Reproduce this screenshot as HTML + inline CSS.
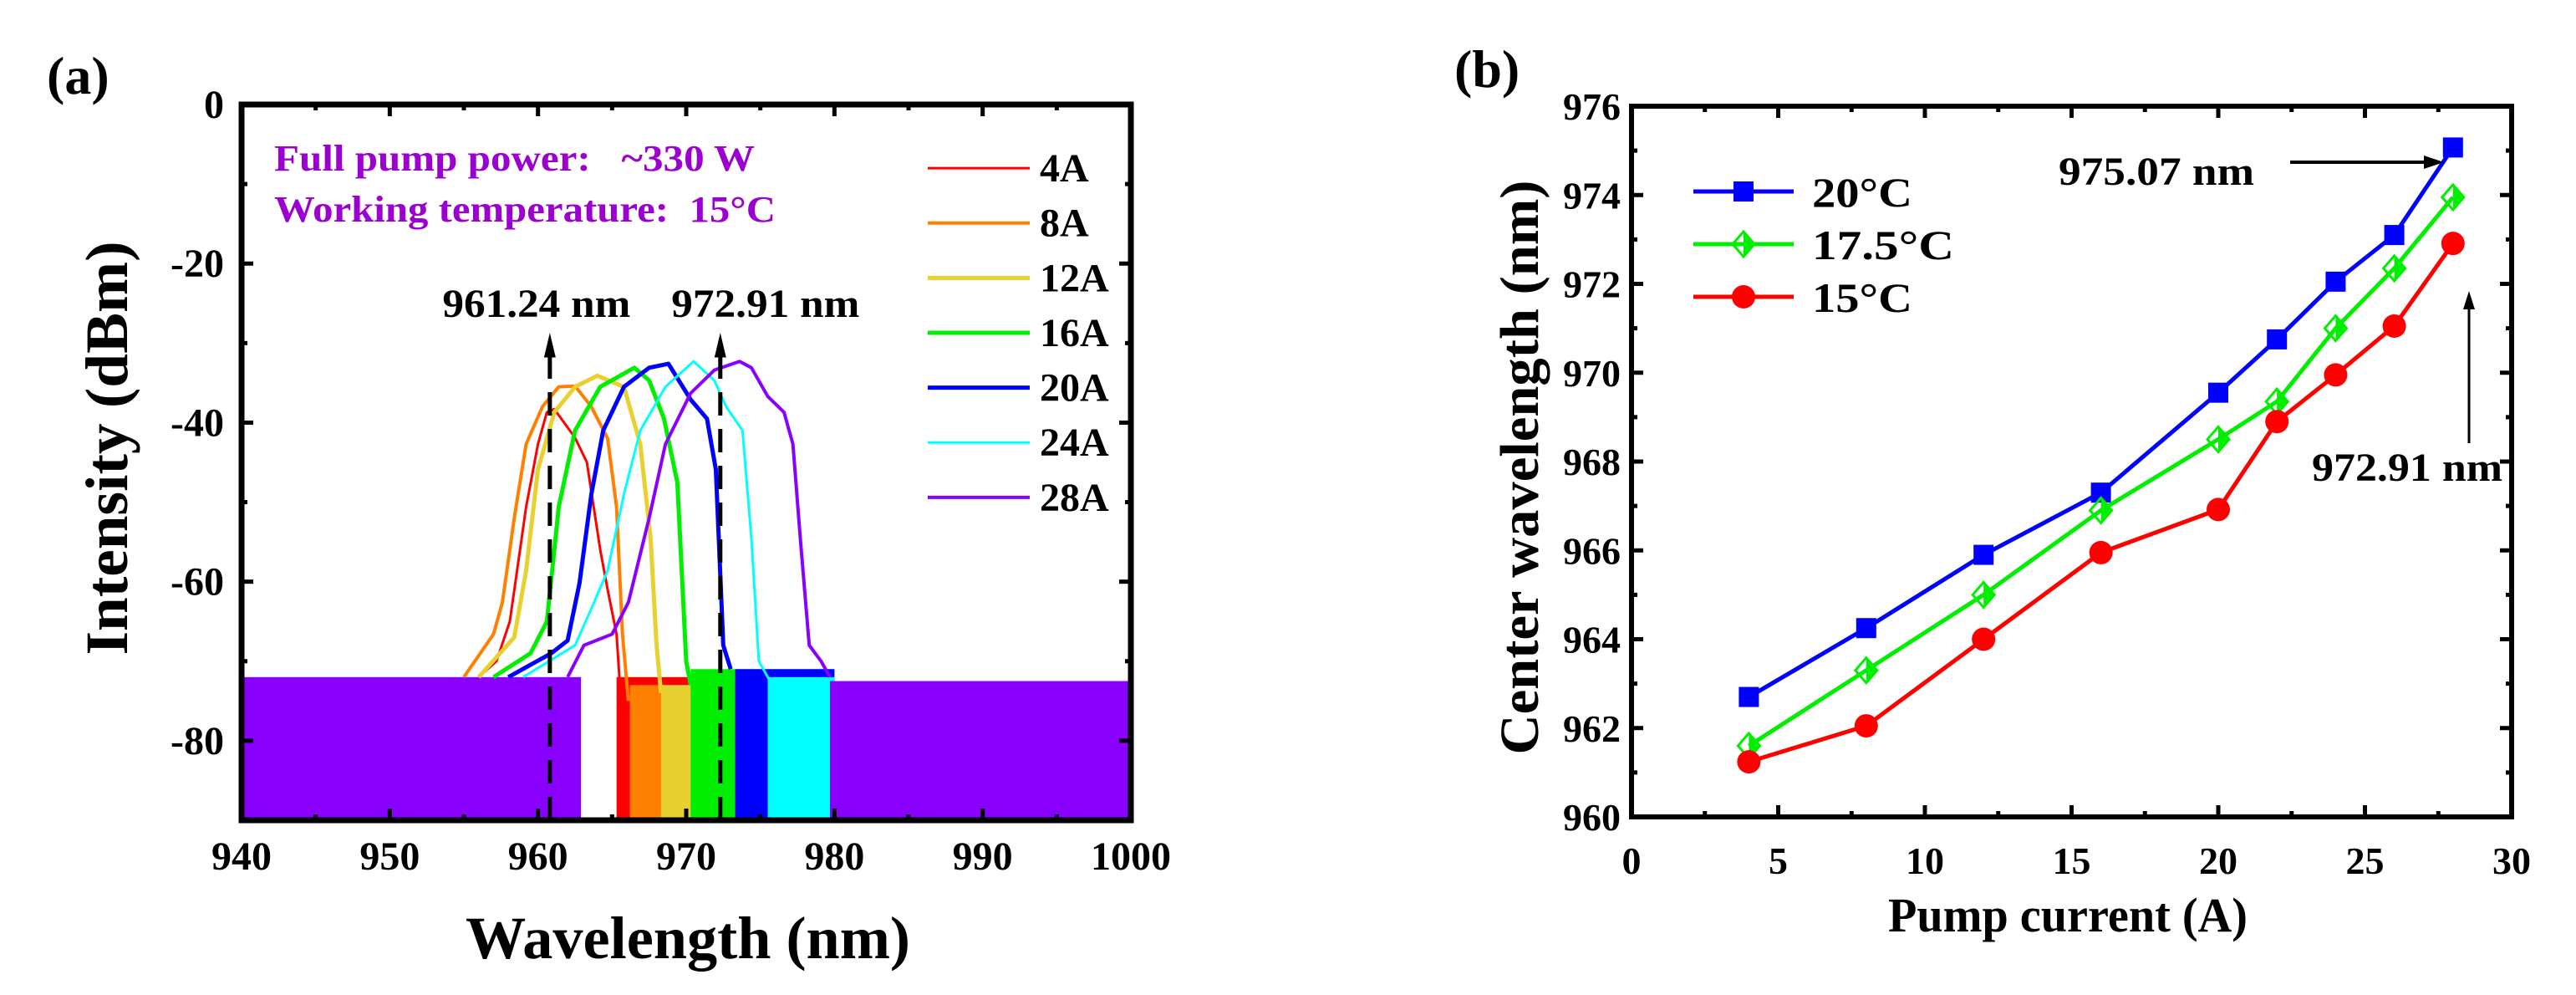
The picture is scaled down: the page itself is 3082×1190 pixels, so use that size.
<!DOCTYPE html>
<html><head><meta charset="utf-8"><style>
html,body{margin:0;padding:0;background:#fff;}
svg{display:block;}
text{font-family:"Liberation Serif","DejaVu Serif",serif !important;font-weight:bold;}
</style></head><body>
<svg id="fig" width="3082" height="1190" viewBox="0 0 3082 1190" xmlns="http://www.w3.org/2000/svg" font-family="Liberation Serif, DejaVu Serif, serif" font-weight="bold">
<g id="pa"></g>
<g id="pb"></g>
</svg>
<script>
// ---------- Panel (a) data ----------
const seriesNames = ["4A","8A","12A","16A","20A","24A","28A"];
const wl4A = [956,957.2,958.1,959.2,960,960.6,961.1,962.5,963.3,964.2,964.7,965.3,965.6];
const db4A = [-72,-70,-65,-50.6,-42.7,-38.7,-38.3,-41.9,-45,-56,-61,-66.6,-75];
const wl8A = [955,957,957.6,958.4,959.2,960.3,961.4,962.5,963.6,964.7,965.3,965.7,966.1];
const db8A = [-72,-66.6,-62.6,-52,-42.7,-38,-35.5,-35.4,-38,-42,-50.6,-66.6,-75];
const wl12A = [956,958.4,959.2,960,961.1,962.5,964,965.8,966.9,967.6,968,968.3];
const db12A = [-72,-67,-58.6,-45.9,-38.7,-35.5,-34.1,-35.5,-42.7,-54.6,-68,-74];
const wl16A = [957,959.5,960.6,961.4,962.5,964.2,966.5,967.5,968.5,969.4,970,970.3];
const db16A = [-72,-69,-65,-50.6,-41,-35.5,-33.1,-34.7,-39.5,-47.5,-70,-73];
const wl20A = [958,960.9,962,962.8,963.6,964.4,965.8,967.5,968.8,970.3,971.4,972,972.5,973];
const db20A = [-72,-69,-67.4,-60.2,-49,-41,-35.5,-33.1,-32.6,-37.1,-39.5,-45.9,-68,-71];
const wl24A = [959,962.5,963.6,964.7,965.8,966.9,968.6,970.5,971.9,972.7,973.8,974.4,974.9,975.8];
const db24A = [-72,-68,-63.4,-58.6,-49,-41,-35.5,-32.3,-34.7,-38,-41,-54.6,-70,-73];
const wl28A = [962,963.1,965,966.1,967.5,968.6,970.3,971.9,973.6,974.4,975.5,976.6,977.2,977.7,978.3,979.1,979.7];
const db28A = [-72,-68,-66.6,-62.6,-52,-42.7,-36.3,-33.4,-32.3,-33.1,-36.7,-38.7,-42.7,-54.6,-68,-70,-72];
// noise-floor bands that reach the bottom of the axis: [start, end, top dBm]
const band4A = [[965.3,980,-72]];
const band8A = [[966.2,980,-73]];
const band12A = [[968.3,980,-73]];
const band16A = [[970.3,980,-71]];
const band20A = [[973.3,980,-71]];
const band24A = [[975.5,980,-72]];
const band28A = [[940,962.9,-72],[979.7,1000,-72.5]];
const peakMarks = [960.8, 972.3];
const peakLabels = ["961.24 nm","972.91 nm"];
const xTicksA = [940,950,960,970,980,990,1000];
const yTicksA = [0,-20,-40,-60,-80];

// ---------- Panel (b) data ----------
const currents = [4,8,12,16,20,22,24,26,28];
const t20 = [962.7,964.25,965.9,967.3,969.55,970.75,972.05,973.1,975.07];
const t175 = [961.6,963.3,965.0,966.9,968.5,969.35,971.0,972.35,973.95];
const t15 = [961.24,962.05,964.0,965.95,966.92,968.9,969.95,971.05,972.91];
const xTicksB = [0,5,10,15,20,25,30];
const yTicksB = [960,962,964,966,968,970,972,974,976];

const NS="http://www.w3.org/2000/svg";
function mk(tag, attrs, parent){const e=document.createElementNS(NS,tag);for(const k in attrs)e.setAttribute(k,attrs[k]);parent.appendChild(e);return e;}

// ---------- draw panel a ----------
const pa=document.getElementById('pa');
const AL=289,AR=1353,AT=125,AB=981;
const xa=v=>AL+(v-940)/60*(AR-AL);
const ya=v=>AT+(0-v)/90*(AB-AT);
const colors=["#ff0000","#ff8000","#e8d030","#00ee00","#0000ff","#00ffff","#8a00ff"];
const widths=[3,4,5,5,5,3,4];
const wls=[wl4A,wl8A,wl12A,wl16A,wl20A,wl24A,wl28A];
const dbs=[db4A,db8A,db12A,db16A,db20A,db24A,db28A];
const bands=[band4A,band8A,band12A,band16A,band20A,band24A,band28A];
const clip=mk('clipPath',{id:'clipA'},pa);mk('rect',{x:AL,y:AT,width:AR-AL,height:AB-AT},clip);
const plotA=mk('g',{'clip-path':'url(#clipA)'},pa);
for(let s=0;s<7;s++){
  for(const b of bands[s]){
    const r=mk('rect',{x:xa(b[0]),y:ya(b[2]),width:xa(b[1])-xa(b[0]),height:AB-ya(b[2]),fill:colors[s]},plotA);
    
    
  }
}
for(let s=0;s<7;s++){
  const pts=wls[s].map((w,i)=>xa(w)+','+ya(dbs[s][i])).join(' ');
  const pl=mk('polyline',{points:pts,fill:'none',stroke:colors[s],'stroke-width':widths[s],'stroke-linejoin':'round'},plotA);
  
  
}
// peak arrows
const labelShift=[-16,54];
for(let i=0;i<peakMarks.length;i++){
  const x=xa(peakMarks[i]);
  const l=mk('line',{x1:x,y1:AB,x2:x,y2:ya(-31.5),stroke:'#000','stroke-width':5,'stroke-dasharray':'28,16'},pa);
  
  
  const h=mk('polygon',{points:`${x},${ya(-28.7)} ${x-7},${ya(-31.8)} ${x+7},${ya(-31.8)}`,fill:'#000'},pa);
  
  
  const t=mk('text',{x:x+labelShift[i],y:ya(-26.7),'font-size':48,'text-anchor':'middle',fill:'#000',textLength:225,lengthAdjust:'spacingAndGlyphs'},pa);
  t.textContent=peakLabels[i];
  
  
}
// axes box
mk('rect',{x:AL,y:AT,width:AR-AL,height:AB-AT,fill:'none',stroke:'#000','stroke-width':7},pa);
for(let v=940;v<=1000;v+=5){
  const maj=(v%10===0),L=maj?14:7,x=xa(v);
  mk('line',{x1:x,y1:AB,x2:x,y2:AB-L,stroke:'#000','stroke-width':5},pa);
  mk('line',{x1:x,y1:AT,x2:x,y2:AT+L,stroke:'#000','stroke-width':5},pa);
}
for(let v=0;v>=-90;v-=10){
  const maj=(v%20===0),L=maj?14:7,y=ya(v);
  mk('line',{x1:AL,y1:y,x2:AL+L,y2:y,stroke:'#000','stroke-width':5},pa);
  mk('line',{x1:AR,y1:y,x2:AR-L,y2:y,stroke:'#000','stroke-width':5},pa);
}
for(const v of xTicksA){const t=mk('text',{x:xa(v),y:1040,'font-size':48,'text-anchor':'middle'},pa);t.textContent=v;
  
  }
for(const v of yTicksA){const t=mk('text',{x:268,y:ya(v)+16,'font-size':48,'text-anchor':'end'},pa);t.textContent=v;
  
  }
// legend a
const legY=[ -8,-14.9,-21.8,-28.7,-35.6,-42.5,-49.4 ];
for(let s=0;s<7;s++){
  const y=ya(legY[s]);
  const l=mk('line',{x1:1110,y1:y,x2:1232,y2:y,stroke:colors[s],'stroke-width':widths[s]},pa);
  
  
  const t=mk('text',{x:1244,y:y+16,'font-size':48},pa);t.textContent=seriesNames[s];
  
  
}
</script>
<svg style="position:absolute;left:0;top:0" width="3082" height="1190" viewBox="0 0 3082 1190" xmlns="http://www.w3.org/2000/svg" font-family="Liberation Serif, DejaVu Serif, serif" font-weight="bold">
<text x="56" y="112" font-size="64">(a)</text>
<text x="328" y="204" font-size="44" fill="#9b00d0" textLength="575" lengthAdjust="spacingAndGlyphs" xml:space="preserve">Full pump power:   ~330 W</text>
<text x="328" y="265" font-size="44" fill="#9b00d0" textLength="600" lengthAdjust="spacingAndGlyphs" xml:space="preserve">Working temperature:  15°C</text>
<text x="823" y="1146" font-size="72" text-anchor="middle" textLength="532" lengthAdjust="spacingAndGlyphs">Wavelength (nm)</text>
<text transform="translate(152,536) rotate(-90)" font-size="72" text-anchor="middle" textLength="495" lengthAdjust="spacingAndGlyphs">Intensity (dBm)</text>
<text x="1740" y="104" font-size="64">(b)</text>
<text x="2474" y="1114" font-size="58" text-anchor="middle" textLength="430" lengthAdjust="spacingAndGlyphs">Pump current (A)</text>
<text transform="translate(1840,559) rotate(-90)" font-size="66" text-anchor="middle" textLength="687" lengthAdjust="spacingAndGlyphs">Center wavelength (nm)</text>
</svg>
<script>
// ---------- draw panel b ----------
const pb=document.getElementById('pb');
const BL=1952,BR=3005,BT=127,BB=977;
const xb=v=>BL+v/30*(BR-BL);
const yb=v=>BB-(v-960)/16*(BB-BT);
mk('rect',{x:BL,y:BT,width:BR-BL,height:BB-BT,fill:'none',stroke:'#000','stroke-width':6},pb);
for(let v=0;v<=30;v+=2.5){
  const maj=(v%5===0),L=maj?14:7,x=xb(v);
  mk('line',{x1:x,y1:BB,x2:x,y2:BB-L,stroke:'#000','stroke-width':5},pb);
  mk('line',{x1:x,y1:BT,x2:x,y2:BT+L,stroke:'#000','stroke-width':5},pb);
}
for(let v=960;v<=976;v+=1){
  const maj=(v%2===0),L=maj?14:7,y=yb(v);
  mk('line',{x1:BL,y1:y,x2:BL+L,y2:y,stroke:'#000','stroke-width':5},pb);
  mk('line',{x1:BR,y1:y,x2:BR-L,y2:y,stroke:'#000','stroke-width':5},pb);
}
for(const v of xTicksB){const t=mk('text',{x:xb(v),y:1045,'font-size':46,'text-anchor':'middle'},pb);t.textContent=v;
  
  }
for(const v of yTicksB){const t=mk('text',{x:1939,y:yb(v)+16,'font-size':46,'text-anchor':'end'},pb);t.textContent=v;
  
  }
function marker(kind,x,y,col,g){
  if(kind==='sq') return mk('rect',{x:x-12,y:y-12,width:24,height:24,fill:col},g);
  if(kind==='ci') return mk('circle',{cx:x,cy:y,r:14,fill:col},g);
  const gg=mk('g',{},g);
  mk('polygon',{points:`${x},${y-15} ${x+13},${y} ${x},${y+15}`,fill:col},gg);
  mk('polygon',{points:`${x},${y-15} ${x-13},${y} ${x},${y+15} ${x+13},${y}`,fill:'none',stroke:col,'stroke-width':3},gg);
  return gg;
}
const seriesB=[[t20,'#0000ff','sq','20°C','series-20c'],[t175,'#00ee00','di','17.5°C','series-17-5c'],[t15,'#ff0000','ci','15°C','series-15c']];
for(const [vals,col,kind,lab,nm] of seriesB){
  const pts=currents.map((c,i)=>xb(c)+','+yb(vals[i])).join(' ');
  const pl=mk('polyline',{points:pts,fill:'none',stroke:col,'stroke-width':5},pb);
  
  
  currents.forEach((c,i)=>{const m=marker(kind,xb(c),yb(vals[i]),col,pb);
    
    });
}
const legYB=[229,292,355];
const legW=[120,170,120];
seriesB.forEach((s,i)=>{
  const l=mk('line',{x1:2026,y1:legYB[i],x2:2146,y2:legYB[i],stroke:s[1],'stroke-width':5},pb);
  
  
  marker(s[2],2086,legYB[i],s[1],pb);
  const t=mk('text',{x:2168,y:legYB[i]+18,'font-size':50,textLength:legW[i],lengthAdjust:'spacingAndGlyphs'},pb);t.textContent=s[3];
  
  
});
// annotations
const a1=mk('text',{x:2463,y:221,'font-size':48,textLength:234,lengthAdjust:'spacingAndGlyphs'},pb);a1.textContent='975.07 nm';


mk('line',{x1:2740,y1:194,x2:2905,y2:194,stroke:'#000','stroke-width':4},pb);
mk('polygon',{points:'2924,194 2900,186 2900,202',fill:'#000'},pb);
const a2=mk('text',{x:2766,y:575,'font-size':48,textLength:228,lengthAdjust:'spacingAndGlyphs'},pb);a2.textContent='972.91 nm';


mk('line',{x1:2954,y1:530,x2:2954,y2:365,stroke:'#000','stroke-width':3},pb);
mk('polygon',{points:'2954,348 2947,370 2961,370',fill:'#000'},pb);
</script>
</body></html>
